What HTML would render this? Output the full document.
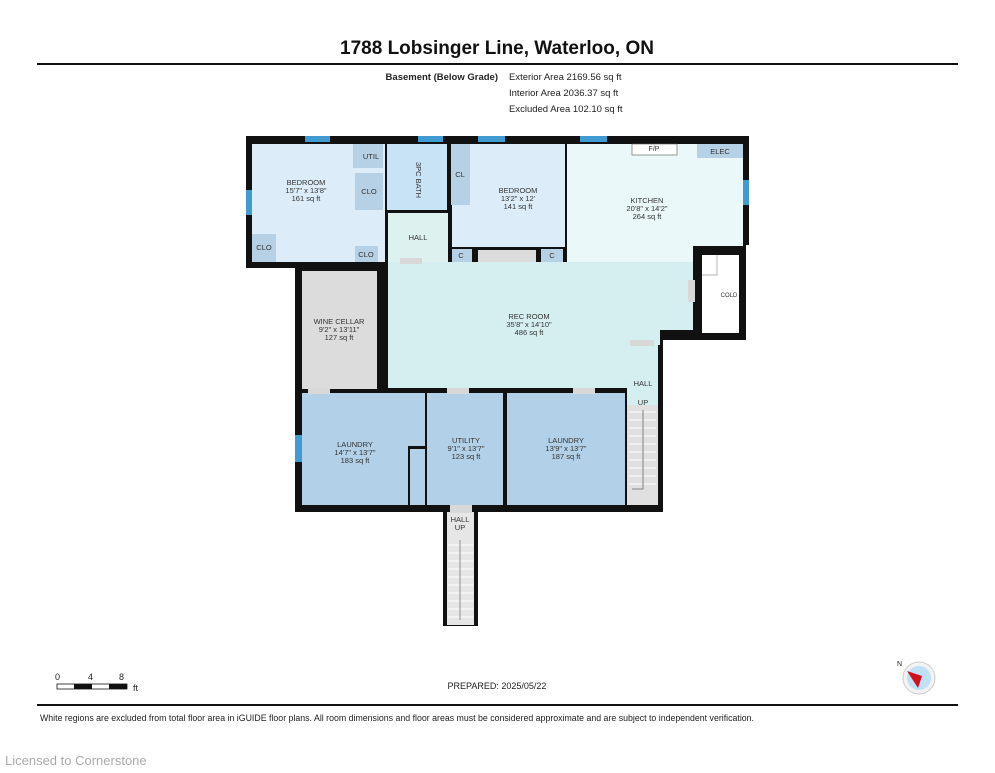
<!DOCTYPE html>
<html><head><meta charset="utf-8"><style>
body{margin:0;background:#fff;width:995px;height:768px;overflow:hidden;font-family:"Liberation Sans",sans-serif;}
</style></head><body>
<svg width="995" height="768" viewBox="0 0 995 768" xmlns="http://www.w3.org/2000/svg" font-family="Liberation Sans, sans-serif">
<text x="497" y="54" font-size="19" font-weight="bold" text-anchor="middle" fill="#111">1788 Lobsinger Line, Waterloo, ON</text>
<rect x="37" y="63" width="921" height="2" fill="#111"/>
<text x="498" y="80" font-size="9.5" font-weight="bold" text-anchor="end" fill="#222">Basement (Below Grade)</text>
<text x="509" y="80" font-size="9.5" fill="#222">Exterior Area 2169.56 sq ft</text>
<text x="509" y="96" font-size="9.5" fill="#222">Interior Area 2036.37 sq ft</text>
<text x="509" y="112" font-size="9.5" fill="#222">Excluded Area 102.10 sq ft</text>

<polygon points="246,136 749,136 749,245 746,245 746,340 663,340 663,512 478,512 478,626 443,626 443,512 295,512 295,268 246,268" fill="#111"/>
<rect x="252" y="144" width="133" height="118" fill="#dcedf9"/>
<rect x="353" y="144" width="30" height="24" fill="#b6d0e5"/>
<rect x="355" y="173" width="28" height="37" fill="#b6d0e5"/>
<rect x="252" y="234" width="24" height="28" fill="#b6d0e5"/>
<rect x="355" y="246" width="23" height="16" fill="#b6d0e5"/>
<rect x="387" y="144" width="60" height="66" fill="#c9e3f6"/>
<rect x="388" y="213" width="60" height="49" fill="#ddf2ee"/>
<rect x="451" y="144" width="19" height="61" fill="#b6d0e5"/>
<rect x="470" y="144" width="95" height="103" fill="#dcedf9"/>
<rect x="452" y="205" width="18" height="42" fill="#dcedf9"/>
<rect x="452" y="249" width="20" height="13" fill="#b6d0e5"/>
<rect x="478" y="250" width="58" height="12" fill="#dcdcdc"/>
<rect x="541" y="249" width="22" height="13" fill="#b6d0e5"/>
<polygon points="567,144 743,144 743,246 693,246 693,262 567,262" fill="#eaf8f9"/>
<rect x="697" y="144" width="46" height="14" fill="#b6d0e5"/>
<rect x="632" y="144" width="45" height="11" fill="#fff" stroke="#555" stroke-width="0.6"/>
<text x="654" y="151" font-size="7" text-anchor="middle" fill="#333">F/P</text>
<text x="720" y="154" font-size="7.5" text-anchor="middle" fill="#333">ELEC</text>
<rect x="702" y="255" width="37" height="78" fill="#fff"/>
<polyline points="702,275 717,275 717,255" fill="none" stroke="#999" stroke-width="0.7"/>
<polygon points="388,262 693,262 693,330 660,330 660,345 627,345 627,388 388,388" fill="#d5eff1"/>
<rect x="627" y="345" width="31" height="60" fill="#d5eff1"/>
<rect x="627" y="405" width="31" height="100" fill="#e0e0e0"/>
<g stroke="#fff" stroke-width="1">
<line x1="629" y1="412" x2="656" y2="412"/><line x1="629" y1="420" x2="656" y2="420"/><line x1="629" y1="428" x2="656" y2="428"/><line x1="629" y1="436" x2="656" y2="436"/><line x1="629" y1="444" x2="656" y2="444"/><line x1="629" y1="452" x2="656" y2="452"/><line x1="629" y1="460" x2="656" y2="460"/><line x1="629" y1="468" x2="656" y2="468"/><line x1="629" y1="476" x2="656" y2="476"/><line x1="629" y1="484" x2="656" y2="484"/>
</g>
<polyline points="643,410 643,489 632,489" fill="none" stroke="#666" stroke-width="0.8"/>
<rect x="302" y="271" width="75" height="118" fill="#dcdcdc"/>
<rect x="302" y="393" width="123" height="112" fill="#b2d0e7"/>
<rect x="427" y="393" width="76" height="112" fill="#b2d0e7"/>
<rect x="507" y="393" width="118" height="112" fill="#b2d0e7"/>
<rect x="408" y="446" width="2" height="59" fill="#111"/><rect x="408" y="446" width="17" height="3" fill="#111"/>
<rect x="447" y="512" width="27" height="113" fill="#e6e6e6"/>
<g stroke="#fff" stroke-width="1">
<line x1="448" y1="545" x2="473" y2="545"/><line x1="448" y1="553" x2="473" y2="553"/><line x1="448" y1="561" x2="473" y2="561"/><line x1="448" y1="569" x2="473" y2="569"/><line x1="448" y1="577" x2="473" y2="577"/><line x1="448" y1="585" x2="473" y2="585"/><line x1="448" y1="593" x2="473" y2="593"/><line x1="448" y1="601" x2="473" y2="601"/><line x1="448" y1="609" x2="473" y2="609"/><line x1="448" y1="617" x2="473" y2="617"/>
</g>
<line x1="460" y1="540" x2="460" y2="620" stroke="#777" stroke-width="0.8"/>
<g fill="#3f9bd0">
<rect x="305" y="136" width="25" height="6"/><rect x="418" y="136" width="25" height="6"/><rect x="478" y="136" width="27" height="6"/><rect x="580" y="136" width="27" height="6"/>
<rect x="246" y="190" width="6" height="25"/><rect x="743" y="180" width="6" height="25"/><rect x="295" y="435" width="7" height="27"/>
</g>
<g fill="#d8d8d8"><rect x="400" y="258" width="22" height="6"/><rect x="308" y="388" width="22" height="6"/><rect x="447" y="388" width="22" height="6"/><rect x="573" y="388" width="22" height="6"/><rect x="630" y="340" width="24" height="6"/><rect x="450" y="505" width="22" height="8"/><rect x="688" y="280" width="7" height="22"/></g>
<g font-size="7.5" fill="#333" text-anchor="middle">
<text x="306" y="185">BEDROOM</text><text x="306" y="193">15'7" x 13'8"</text><text x="306" y="201">161 sq ft</text>
<text x="371" y="159">UTIL</text><text x="369" y="194">CLO</text><text x="264" y="250">CLO</text><text x="366" y="257">CLO</text>
<text x="418" y="240">HALL</text><text x="460" y="177">CL</text>
<text x="518" y="193">BEDROOM</text><text x="518" y="201">13'2" x 12'</text><text x="518" y="209">141 sq ft</text>
<text x="461" y="258">C</text><text x="552" y="258">C</text>
<text x="647" y="203">KITCHEN</text><text x="647" y="211">20'8" x 14'2"</text><text x="647" y="219">264 sq ft</text>
<text x="529" y="319">REC ROOM</text><text x="529" y="327">35'8" x 14'10"</text><text x="529" y="335">486 sq ft</text>
<text x="339" y="324">WINE CELLAR</text><text x="339" y="332">9'2" x 13'11"</text><text x="339" y="340">127 sq ft</text>
<text x="355" y="447">LAUNDRY</text><text x="355" y="455">14'7" x 13'7"</text><text x="355" y="463">183 sq ft</text>
<text x="466" y="443">UTILITY</text><text x="466" y="451">9'1" x 13'7"</text><text x="466" y="459">123 sq ft</text>
<text x="566" y="443">LAUNDRY</text><text x="566" y="451">13'9" x 13'7"</text><text x="566" y="459">187 sq ft</text>
<text x="643" y="386">HALL</text><text x="643" y="405">UP</text>
<text x="460" y="522">HALL</text><text x="460" y="530">UP</text>
<text x="729" y="297" font-size="6">COLD</text>
<text x="428" y="192" transform="rotate(90 428 180)">3PC BATH</text>
</g>
<g font-size="9" fill="#222"><text x="55" y="680">0</text><text x="88" y="680">4</text><text x="119" y="680">8</text><text x="133" y="691">ft</text></g>
<rect x="57" y="684" width="70" height="5" fill="#fff" stroke="#111" stroke-width="0.8"/>
<rect x="74" y="684" width="18" height="5" fill="#111"/><rect x="109" y="684" width="18" height="5" fill="#111"/>
<text x="497" y="689" font-size="9" text-anchor="middle" fill="#222">PREPARED: 2025/05/22</text>
<circle cx="919" cy="678" r="16" fill="#f3f3f3" stroke="#ccc"/><circle cx="919" cy="678" r="12" fill="#bfe0f5"/>
<polygon points="907,671 922,676 918,688" fill="#d0101a"/>
<text x="897" y="666" font-size="7" fill="#222">N</text>
<rect x="37" y="704" width="921" height="2" fill="#111"/>
<text x="40" y="721" font-size="8.8" fill="#222" textLength="714" lengthAdjust="spacingAndGlyphs">White regions are excluded from total floor area in iGUIDE floor plans. All room dimensions and floor areas must be considered approximate and are subject to independent verification.</text>
<text x="5" y="765" font-size="13" fill="#aaa">Licensed to Cornerstone</text>
</svg>
</body></html>
